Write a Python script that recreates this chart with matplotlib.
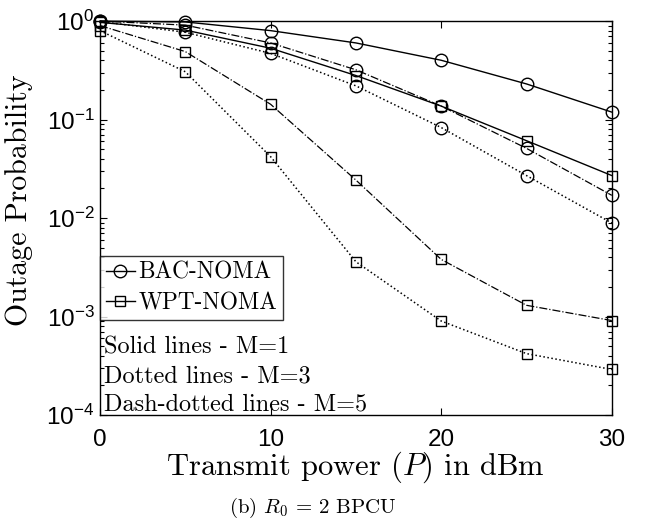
import numpy as np
import matplotlib
matplotlib.use("Agg")
import matplotlib.pyplot as plt
from matplotlib.lines import Line2D
from matplotlib.ticker import FixedLocator, FuncFormatter, LogLocator, NullFormatter

# Donnees
power_dbm = [0, 5, 10, 15, 20, 25, 30]
bac_m1 = [1.0, 0.98, 0.80, 0.60, 0.40, 0.23, 0.119]
bac_m3 = [0.99, 0.77, 0.47, 0.22, 0.083, 0.027, 0.0089]
bac_m5 = [1.0, 0.91, 0.60, 0.32, 0.137, 0.051, 0.017]
wpt_m1 = [0.97, 0.81, 0.53, 0.28, 0.137, 0.061, 0.027]
wpt_m3 = [0.80, 0.306, 0.042, 0.0036, 0.0009, 0.00042, 0.00029]
wpt_m5 = [0.90, 0.49, 0.143, 0.0243, 0.0038, 0.0013, 0.00091]

plt.rcParams["font.family"] = "Liberation Sans"
plt.rcParams["mathtext.fontset"] = "cm"

fig = plt.figure(figsize=(6.6, 5.27), dpi=100)
ax = fig.add_axes([0.1515, 0.2125, 0.7755, 0.7475])

circ = dict(marker="o", markersize=9, markerfacecolor="none",
            markeredgecolor="black", markeredgewidth=1.0, clip_on=False)
sq = dict(marker="s", markersize=7, markerfacecolor="none",
          markeredgecolor="black", markeredgewidth=1.0, clip_on=False)

ax.semilogy(power_dbm, bac_m1, "-", color="black", lw=1.0, **circ)
ax.semilogy(power_dbm, bac_m3, ":", color="black", lw=1.1, **circ)
ax.semilogy(power_dbm, bac_m5, "-.", color="black", lw=0.9, **circ)
ax.semilogy(power_dbm, wpt_m1, "-", color="black", lw=1.0, **sq)
ax.semilogy(power_dbm, wpt_m3, ":", color="black", lw=1.1, **sq)
ax.semilogy(power_dbm, wpt_m5, "-.", color="black", lw=0.9, **sq)

ax.set_xlim(0, 30)
ax.set_ylim(1e-4, 1)
ax.xaxis.set_major_locator(FixedLocator([0, 10, 20, 30]))
ax.yaxis.set_major_locator(LogLocator(base=10, numticks=10))
ax.yaxis.set_minor_locator(LogLocator(base=10, subs=np.arange(2, 10), numticks=10))
ax.yaxis.set_minor_formatter(NullFormatter())
ax.yaxis.set_major_formatter(
    FuncFormatter(lambda v, p: r"$\mathregular{10^{%d}}$" % round(np.log10(v))))
ax.tick_params(which="both", direction="in", top=True, right=True,
               labelsize=17.5, width=0.8)
ax.tick_params(which="major", length=5)
ax.tick_params(axis="x", which="major", pad=10)
ax.tick_params(axis="y", which="major", pad=4)
ax.tick_params(which="minor", length=3)
for s in ax.spines.values():
    s.set_linewidth(1.0)

ax.set_xlabel(r"Transmit power ($P$) in dBm", fontfamily="cmr10", fontsize=22)
ax.xaxis.set_label_coords(0.5, -0.088)
ax.set_ylabel("Outage Probability", fontfamily="cmr10", fontsize=21.5)
ax.yaxis.set_label_coords(-0.131, 0.546)

handles = [
    Line2D([], [], color="black", lw=1.0, marker="o", markersize=9,
           markerfacecolor="none", markeredgecolor="black"),
    Line2D([], [], color="black", lw=1.0, marker="s", markersize=7,
           markerfacecolor="none", markeredgecolor="black"),
]
leg = ax.legend(handles, ["BAC-NOMA", "WPT-NOMA"], loc="upper left",
                bbox_to_anchor=(0.0, 0.404), prop={"family": "cmr10", "size": 16.8},
                frameon=True, fancybox=False, edgecolor="black",
                handlelength=1.25, handletextpad=0.15, borderpad=0.25,
                labelspacing=0.35, borderaxespad=0.0)
leg.get_frame().set_linewidth(1.0)

ax.text(0.008, 0.172, "Solid lines - M=1", transform=ax.transAxes,
        fontfamily="cmr10", fontsize=17.5, va="center")
ax.text(0.008, 0.098, "Dotted lines - M=3", transform=ax.transAxes,
        fontfamily="cmr10", fontsize=17.5, va="center")
ax.text(0.008, 0.028, "Dash-dotted lines - M=5", transform=ax.transAxes,
        fontfamily="cmr10", fontsize=17.5, va="center")

fig.text(0.474, 0.036, r"(b) $R_0$ = 2 BPCU", fontfamily="cmr10",
         fontsize=15, ha="center", va="center")

fig.savefig("out.png", dpi=100)
